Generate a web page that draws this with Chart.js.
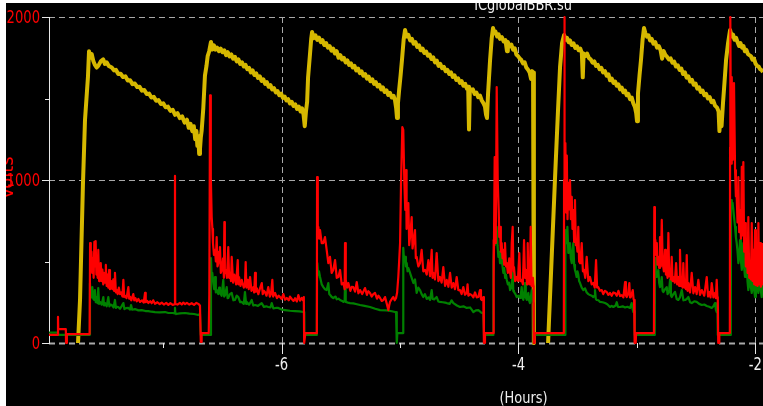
<!DOCTYPE html>
<html>
<head>
<meta charset="utf-8">
<title>ICglobalBBR.su</title>
<script src="https://cdn.jsdelivr.net/npm/chart.js@4.4.1/dist/chart.umd.min.js"></script>
<style>
  html, body { margin: 0; padding: 0; background: #fff; overflow: hidden; }
  canvas { display: block; }
</style>
</head>
<body>
<canvas id="chart" width="763" height="406"></canvas>
<script>
// Time axis in hours (negative = before now), values in volts.
const xRange = [-7.965, -1.935];
const yRange = [0, 2000];
const yTickValues = [0, 500, 1000, 1500, 2000];
const yLabelValues = [0, 1000, 2000];
const xTickValues = [-7, -6, -5, -4, -3, -2];
const xLabelValues = [-6, -4, -2];
const chartTitle = 'ICglobalBBR.su';
const yTitle = 'Volts';
const xTitle = '(Hours)';

// Yellow trace: charging sawtooth
const yellowTrace = [
  [-7.720,0],[-7.703,264],[-7.678,982],[-7.661,1368],[-7.636,1632],[-7.627,1790],[-7.615,1750],[-7.604,1772],[-7.590,1728],[-7.577,1706],
  [-7.563,1690],[-7.549,1700],[-7.528,1728],[-7.507,1740],[-7.493,1712],[-7.478,1722],[-7.460,1700],[-7.435,1690],[-7.415,1672],[-7.400,1676],
  [-7.380,1650],[-7.360,1652],[-7.340,1632],[-7.320,1636],[-7.300,1610],[-7.280,1612],[-7.260,1588],[-7.240,1592],[-7.220,1570],[-7.200,1572],
  [-7.180,1548],[-7.160,1552],[-7.140,1528],[-7.120,1530],[-7.100,1506],[-7.080,1510],[-7.060,1486],[-7.040,1490],[-7.020,1466],[-7.000,1470],
  [-6.980,1446],[-6.960,1450],[-6.940,1424],[-6.920,1430],[-6.900,1400],[-6.880,1410],[-6.860,1380],[-6.840,1390],[-6.820,1352],[-6.800,1370],
  [-6.785,1320],[-6.770,1345],[-6.755,1300],[-6.742,1330],[-6.730,1250],[-6.720,1300],[-6.712,1210],[-6.704,1270],[-6.697,1160],[-6.690,1190],
  [-6.683,1260],[-6.676,1300],[-6.662,1440],[-6.648,1640],[-6.635,1700],[-6.625,1760],[-6.612,1790],[-6.597,1847],
  [-6.585,1800],[-6.572,1826],[-6.560,1800],[-6.545,1812],[-6.530,1790],[-6.515,1806],[-6.500,1784],[-6.485,1796],[-6.470,1766],[-6.455,1784],
  [-6.440,1758],[-6.425,1770],[-6.410,1744],[-6.395,1756],[-6.380,1728],[-6.365,1740],[-6.350,1712],[-6.335,1722],[-6.320,1696],[-6.305,1706],
  [-6.290,1680],[-6.275,1688],[-6.260,1660],[-6.245,1672],[-6.230,1644],[-6.215,1654],[-6.200,1626],[-6.185,1636],[-6.170,1608],[-6.155,1618],
  [-6.140,1590],[-6.125,1600],[-6.110,1572],[-6.095,1582],[-6.080,1556],[-6.065,1564],[-6.050,1538],[-6.035,1546],[-6.020,1520],[-6.005,1530],
  [-5.990,1504],[-5.975,1512],[-5.960,1488],[-5.945,1496],[-5.930,1470],[-5.915,1480],[-5.900,1454],[-5.885,1464],[-5.870,1436],[-5.855,1450],
  [-5.840,1420],[-5.828,1440],[-5.815,1400],[-5.805,1330],[-5.795,1420],[-5.785,1480],[-5.777,1630],[-5.760,1780],[-5.750,1870],[-5.743,1908],
  [-5.730,1870],[-5.715,1888],[-5.700,1860],[-5.685,1874],[-5.670,1846],[-5.655,1858],[-5.640,1828],[-5.625,1840],[-5.610,1812],[-5.595,1822],
  [-5.580,1794],[-5.565,1806],[-5.550,1776],[-5.535,1790],[-5.520,1750],[-5.505,1766],[-5.490,1740],[-5.475,1750],[-5.460,1722],[-5.445,1734],
  [-5.430,1706],[-5.415,1716],[-5.400,1690],[-5.385,1700],[-5.370,1672],[-5.355,1684],[-5.340,1656],[-5.325,1666],[-5.310,1640],[-5.295,1650],
  [-5.280,1622],[-5.265,1634],[-5.250,1606],[-5.235,1618],[-5.220,1590],[-5.205,1600],[-5.190,1574],[-5.175,1584],[-5.160,1556],[-5.145,1568],
  [-5.130,1540],[-5.115,1550],[-5.100,1522],[-5.085,1534],[-5.070,1506],[-5.055,1516],[-5.043,1490],[-5.033,1440],[-5.026,1380],[-5.018,1470],
  [-5.008,1552],[-4.996,1640],[-4.984,1736],[-4.970,1860],[-4.958,1920],
  [-4.945,1880],[-4.930,1890],[-4.915,1856],[-4.900,1866],[-4.885,1836],[-4.870,1846],[-4.855,1816],[-4.840,1826],[-4.825,1796],[-4.810,1806],
  [-4.795,1780],[-4.780,1788],[-4.765,1762],[-4.750,1770],[-4.735,1742],[-4.720,1752],[-4.705,1722],[-4.690,1732],[-4.675,1700],[-4.660,1712],
  [-4.645,1686],[-4.630,1694],[-4.615,1668],[-4.600,1676],[-4.585,1650],[-4.570,1660],[-4.555,1632],[-4.540,1642],[-4.525,1614],[-4.510,1624],
  [-4.495,1596],[-4.480,1606],[-4.465,1578],[-4.450,1590],[-4.435,1560],[-4.425,1572],[-4.418,1310],[-4.411,1560],[-4.400,1548],[-4.385,1556],
  [-4.370,1528],[-4.355,1536],[-4.340,1508],[-4.325,1518],[-4.310,1488],[-4.295,1470],[-4.283,1450],[-4.274,1400],[-4.266,1380],[-4.257,1530],
  [-4.240,1736],[-4.226,1870],[-4.215,1933],
  [-4.205,1900],[-4.195,1912],[-4.180,1880],[-4.168,1894],[-4.156,1866],[-4.140,1876],[-4.125,1850],[-4.110,1858],[-4.097,1790],[-4.090,1846],
  [-4.075,1820],[-4.060,1830],[-4.046,1800],[-4.032,1808],[-4.018,1770],[-4.004,1760],[-3.990,1746],[-3.976,1736],[-3.962,1716],[-3.948,1722],
  [-3.934,1690],[-3.919,1676],[-3.906,1660],[-3.894,1620],[-3.885,1668],[-3.877,1660],[-3.871,1650],[-3.869,0],[-3.810,null],
  [-3.750,0],[-3.742,141],[-3.717,571],[-3.691,1018],[-3.666,1430],[-3.649,1693],[-3.632,1840],[-3.615,1890],
  [-3.603,1860],[-3.590,1872],[-3.577,1846],[-3.565,1856],[-3.550,1828],[-3.535,1838],[-3.520,1810],[-3.506,1820],[-3.492,1796],[-3.478,1806],
  [-3.465,1780],[-3.457,1630],[-3.450,1776],[-3.435,1760],[-3.421,1776],[-3.405,1748],[-3.390,1740],[-3.375,1720],[-3.360,1728],[-3.345,1700],
  [-3.330,1706],[-3.315,1680],[-3.300,1688],[-3.286,1660],[-3.270,1668],[-3.255,1640],[-3.240,1648],[-3.227,1612],[-3.212,1622],[-3.198,1596],
  [-3.184,1604],[-3.170,1578],[-3.156,1586],[-3.142,1556],[-3.128,1566],[-3.114,1538],[-3.100,1548],[-3.086,1520],[-3.072,1528],[-3.058,1496],
  [-3.044,1506],[-3.030,1470],[-3.016,1446],[-3.006,1410],[-2.999,1360],[-2.991,1530],[-2.978,1640],[-2.965,1740],[-2.952,1860],[-2.940,1933],
  [-2.928,1900],[-2.915,1880],[-2.902,1888],[-2.889,1856],[-2.875,1866],[-2.860,1836],[-2.845,1846],[-2.830,1812],[-2.815,1822],[-2.800,1796],
  [-2.787,1744],[-2.775,1792],[-2.760,1768],[-2.745,1756],[-2.730,1740],[-2.715,1746],[-2.700,1720],[-2.685,1726],[-2.670,1696],[-2.655,1704],
  [-2.640,1676],[-2.625,1684],[-2.610,1650],[-2.595,1660],[-2.580,1628],[-2.565,1636],[-2.550,1604],[-2.535,1614],[-2.520,1584],[-2.505,1592],
  [-2.490,1560],[-2.475,1568],[-2.460,1540],[-2.445,1548],[-2.430,1520],[-2.415,1528],[-2.400,1500],[-2.385,1508],[-2.370,1478],[-2.355,1486],
  [-2.340,1456],[-2.323,1444],[-2.310,1420],[-2.303,1300],[-2.296,1390],[-2.285,1330],[-2.273,1470],[-2.260,1600],[-2.247,1736],[-2.230,1840],
  [-2.213,1920],
  [-2.200,1880],[-2.188,1892],[-2.175,1860],[-2.162,1872],[-2.150,1846],[-2.137,1822],[-2.125,1840],[-2.112,1812],[-2.100,1822],[-2.088,1790],
  [-2.075,1798],[-2.062,1772],[-2.050,1766],[-2.037,1760],[-2.024,1738],[-2.011,1744],[-1.998,1714],[-1.985,1700],[-1.972,1696],[-1.960,1680],
  [-1.947,1674],[-1.935,1662]
];

// Red trace: discharge current bursts
const redTrace = [
  [-7.965,50],[-7.891,50],[-7.889,160],[-7.887,85],[-7.823,85],[-7.821,0],[-7.815,0],[-7.813,55],[-7.622,55],
  [-7.620,55],[-7.618,613],[-7.612,440],[-7.606,560],[-7.600,430],[-7.594,520],[-7.588,400],[-7.582,620],[-7.577,470],[-7.571,625],
  [-7.565,420],[-7.560,520],[-7.554,400],[-7.549,571],[-7.542,380],[-7.535,405],[-7.528,490],[-7.520,380],[-7.514,450],[-7.507,360],
  [-7.500,430],[-7.492,370],[-7.485,479],[-7.478,350],[-7.471,420],[-7.464,340],[-7.457,448],[-7.450,330],[-7.440,380],[-7.430,330],
  [-7.422,390],[-7.415,320],[-7.408,430],[-7.400,310],[-7.393,325],[-7.385,300],[-7.375,340],[-7.365,300],[-7.355,310],[-7.345,285],
  [-7.337,387],[-7.330,282],[-7.323,290],[-7.310,275],[-7.295,343],[-7.288,272],[-7.281,285],[-7.270,262],[-7.253,300],[-7.245,262],
  [-7.235,275],[-7.224,256],[-7.210,270],[-7.196,252],[-7.180,262],[-7.165,248],[-7.154,307],[-7.148,250],[-7.135,258],[-7.126,245],
  [-7.110,256],[-7.098,244],[-7.085,262],[-7.070,240],[-7.050,250],[-7.030,238],[-7.013,248],[-6.995,236],[-6.975,246],[-6.957,234],
  [-6.940,244],[-6.920,234],[-6.903,238],[-6.901,1025],[-6.899,240],[-6.880,236],[-6.860,246],[-6.844,236],[-6.830,248],[-6.816,238],
  [-6.800,246],[-6.780,236],[-6.760,244],[-6.740,234],[-6.720,246],[-6.704,240],[-6.690,230],[-6.683,6],[-6.678,6],[-6.676,60],
  [-6.616,60],[-6.611,300],[-6.605,1520],[-6.600,1100],[-6.597,1018],[-6.591,773],[-6.585,700],[-6.580,613],[-6.572,540],[-6.563,571],
  [-6.556,500],[-6.549,650],[-6.542,470],[-6.535,490],[-6.528,560],[-6.521,589],[-6.514,430],[-6.506,448],[-6.495,520],[-6.488,400],
  [-6.484,742],[-6.480,430],[-6.473,448],[-6.462,400],[-6.451,589],[-6.444,400],[-6.436,430],[-6.428,380],[-6.422,528],[-6.410,370],
  [-6.400,420],[-6.394,405],[-6.385,360],[-6.371,509],[-6.366,360],[-6.360,405],[-6.348,350],[-6.337,387],[-6.320,340],[-6.310,360],
  [-6.304,497],[-6.298,340],[-6.287,387],[-6.278,330],[-6.267,405],[-6.255,320],[-6.239,343],[-6.232,310],[-6.225,430],[-6.218,315],
  [-6.210,335],[-6.197,300],[-6.185,330],[-6.168,368],[-6.160,300],[-6.150,320],[-6.141,313],[-6.128,290],[-6.113,343],[-6.100,285],
  [-6.090,300],[-6.079,387],[-6.072,285],[-6.056,307],[-6.040,275],[-6.025,290],[-6.014,282],[-6.000,270],[-5.986,300],[-5.972,265],
  [-5.957,276],[-5.940,262],[-5.930,285],[-5.915,270],[-5.900,258],[-5.887,275],[-5.872,255],[-5.859,294],[-5.845,260],[-5.831,276],
  [-5.820,262],[-5.813,282],[-5.810,0],[-5.804,0],[-5.800,60],[-5.703,60],[-5.701,1018],[-5.695,700],[-5.690,712],[-5.683,640],
  [-5.676,693],[-5.662,613],[-5.648,613],[-5.634,650],[-5.620,571],[-5.606,490],[-5.592,528],[-5.578,430],[-5.564,448],[-5.549,509],
  [-5.535,400],[-5.521,405],[-5.507,448],[-5.493,360],[-5.479,368],[-5.468,330],[-5.465,613],[-5.460,400],[-5.457,387],[-5.447,340],
  [-5.437,368],[-5.420,320],[-5.408,345],[-5.395,343],[-5.380,315],[-5.366,374],[-5.352,305],[-5.338,325],[-5.320,300],[-5.296,337],
  [-5.280,295],[-5.268,318],[-5.254,307],[-5.240,285],[-5.226,300],[-5.212,307],[-5.195,272],[-5.183,290],[-5.169,276],[-5.155,258],
  [-5.141,264],[-5.127,282],[-5.112,240],[-5.099,202],[-5.092,230],[-5.085,252],[-5.070,270],[-5.057,282],[-5.045,262],[-5.034,276],
  [-5.025,310],[-5.015,405],[-5.008,500],[-5.000,613],[-4.992,982],[-4.981,1325],[-4.973,1307],[-4.964,982],[-4.956,816],[-4.950,1061],
  [-4.945,700],[-4.939,736],[-4.930,859],[-4.923,600],[-4.916,650],[-4.902,773],[-4.895,580],[-4.888,613],[-4.874,693],[-4.867,520],
  [-4.860,528],[-4.846,470],[-4.832,490],[-4.818,571],[-4.804,440],[-4.789,448],[-4.775,420],[-4.761,509],[-4.747,410],[-4.733,571],
  [-4.726,400],[-4.719,430],[-4.705,390],[-4.691,552],[-4.677,380],[-4.663,405],[-4.649,370],[-4.635,466],[-4.620,350],[-4.606,387],
  [-4.592,345],[-4.578,430],[-4.564,340],[-4.550,368],[-4.536,330],[-4.522,405],[-4.508,325],
  [-4.494,325],[-4.480,300],[-4.466,343],[-4.452,296],[-4.437,307],[-4.430,360],[-4.423,290],[-4.409,300],[-4.395,294],[-4.381,280],
  [-4.367,310],[-4.353,280],[-4.339,282],[-4.325,325],[-4.317,270],[-4.310,264],[-4.297,282],[-4.292,0],[-4.286,0],[-4.283,61],
  [-4.213,61],[-4.212,632],[-4.207,400],[-4.201,1141],[-4.196,700],[-4.192,613],[-4.184,1570],[-4.175,982],[-4.167,816],[-4.162,650],
  [-4.156,712],[-4.149,560],[-4.142,613],[-4.135,520],[-4.128,571],[-4.121,480],[-4.114,613],[-4.106,470],[-4.099,490],[-4.090,430],
  [-4.078,520],[-4.071,430],[-4.064,400],[-4.057,613],[-4.049,712],[-4.043,440],[-4.038,466],[-4.028,380],[-4.015,405],[-4.005,380],
  [-3.993,552],[-3.985,380],[-3.973,387],[-3.963,360],[-3.953,632],[-3.945,400],[-3.936,448],[-3.928,360],[-3.922,613],[-3.916,380],
  [-3.911,405],[-3.904,360],[-3.897,712],[-3.890,350],[-3.886,368],[-3.878,400],[-3.873,350],[-3.871,0],[-3.866,0],[-3.863,61],
  [-3.617,61],[-3.615,1000],[-3.613,2000],[-3.609,900],[-3.604,1227],[-3.598,800],[-3.592,1150],[-3.586,760],[-3.579,982],[-3.572,820],
  [-3.565,1000],[-3.558,760],[-3.550,896],[-3.544,700],[-3.537,816],[-3.530,620],[-3.523,877],[-3.516,600],[-3.509,613],[-3.502,560],
  [-3.495,712],[-3.488,500],[-3.480,490],[-3.473,540],[-3.466,613],[-3.456,440],[-3.447,448],[-3.436,400],[-3.424,528],[-3.410,380],
  [-3.396,405],[-3.382,360],[-3.368,368],[-3.356,340],[-3.345,509],[-3.336,340],[-3.326,343],[-3.312,320],[-3.297,325],[-3.284,300],
  [-3.270,320],[-3.255,313],[-3.241,295],[-3.227,307],
  [-3.213,290],[-3.199,310],[-3.185,307],[-3.170,290],[-3.156,320],[-3.142,288],[-3.128,294],[-3.114,280],[-3.100,374],[-3.093,290],
  [-3.086,282],[-3.075,300],[-3.064,368],[-3.058,280],[-3.052,282],[-3.044,300],[-3.035,325],[-3.028,270],[-3.024,264],[-3.019,0],
  [-3.010,0],[-3.007,61],[-2.856,61],[-2.853,834],[-2.848,560],[-2.844,632],[-2.838,540],[-2.832,613],[-2.826,480],[-2.819,528],
  [-2.812,460],[-2.805,650],[-2.798,470],[-2.790,755],[-2.782,490],[-2.772,440],[-2.762,571],[-2.755,420],[-2.748,448],[-2.741,400],
  [-2.734,675],[-2.727,410],[-2.720,430],[-2.713,390],[-2.706,528],[-2.699,380],[-2.692,405],[-2.680,370],[-2.669,490],[-2.660,360],
  [-2.650,405],[-2.643,350],[-2.636,571],[-2.628,350],[-2.621,405],[-2.614,340],[-2.608,490],[-2.600,340],[-2.593,387],[-2.586,330],
  [-2.579,540],[-2.572,320],[-2.565,368],[-2.551,310],[-2.537,430],[-2.523,305],[-2.509,343],[-2.495,300],[-2.481,387],[-2.467,295],
  [-2.452,325],[-2.431,290],[-2.410,405],[-2.399,285],[-2.388,313],[-2.378,280],[-2.368,368],[-2.354,280],[-2.340,307],[-2.333,275],
  [-2.326,387],[-2.320,280],[-2.317,282],[-2.313,0],[-2.306,0],[-2.304,61],
  [-2.215,61],[-2.213,1200],[-2.211,2000],[-2.205,1100],[-2.199,1632],[-2.191,1123],[-2.186,1300],[-2.180,1595],[-2.171,1061],[-2.164,900],
  [-2.157,896],[-2.150,740],[-2.143,1018],[-2.136,680],[-2.129,816],[-2.121,640],[-2.114,1080],[-2.108,660],[-2.101,1110],[-2.094,560],
  [-2.087,736],[-2.080,470],[-2.072,613],[-2.065,430],[-2.059,773],[-2.051,400],[-2.044,490],[-2.037,390],[-2.030,736],[-2.023,380],
  [-2.017,571],[-2.009,360],[-2.002,693],[-1.995,355],[-1.988,466],[-1.981,350],[-1.974,736],[-1.967,360],[-1.960,613],[-1.953,345],
  [-1.946,490],[-1.940,360],[-1.935,613]
];

// Green trace: secondary current channel
const greenTrace = [
  [-7.965,64],[-7.889,64],[-7.887,50],[-7.621,50],
  [-7.619,368],[-7.614,300],[-7.610,307],[-7.604,280],[-7.599,343],[-7.590,270],[-7.582,264],[-7.577,325],[-7.570,250],[-7.562,282],
  [-7.555,245],[-7.549,337],[-7.542,240],[-7.534,252],[-7.520,235],[-7.506,282],[-7.500,230],[-7.492,245],[-7.478,225],[-7.464,282],
  [-7.455,225],[-7.446,236],[-7.435,233],[-7.420,218],[-7.408,264],[-7.400,215],[-7.390,222],[-7.380,221],[-7.365,210],[-7.350,228],
  [-7.337,245],[-7.328,208],[-7.315,214],[-7.295,215],[-7.280,205],[-7.272,233],[-7.262,204],[-7.239,208],[-7.210,200],[-7.182,202],
  [-7.150,196],[-7.126,196],[-7.100,192],[-7.070,190],[-7.030,188],[-6.985,190],[-6.957,184],[-6.920,184],[-6.903,182],[-6.901,215],
  [-6.898,180],[-6.893,178],[-6.860,182],[-6.816,184],[-6.780,180],[-6.740,178],[-6.704,172],[-6.690,178],[-6.683,49],
  [-6.599,49],[-6.597,521],[-6.591,400],[-6.586,430],[-6.577,368],[-6.570,330],[-6.563,405],[-6.556,310],[-6.549,325],[-6.535,300],
  [-6.528,340],[-6.521,307],[-6.507,290],[-6.493,387],[-6.486,285],[-6.478,294],[-6.464,343],[-6.457,275],[-6.451,276],[-6.437,300],
  [-6.422,307],[-6.408,262],[-6.394,264],[-6.380,290],[-6.366,282],[-6.350,250],[-6.337,252],[-6.320,240],[-6.310,313],[-6.300,240],
  [-6.295,252],[-6.275,235],[-6.253,264],[-6.240,230],[-6.225,233],[-6.200,228],[-6.169,245],[-6.150,222],[-6.130,225],[-6.113,221],
  [-6.095,218],[-6.084,245],[-6.070,212],[-6.050,215],[-6.028,215],[-6.000,205],[-5.972,202],[-5.930,198],[-5.887,196],[-5.850,194],
  [-5.817,190],[-5.811,190],[-5.809,49],
  [-5.703,49],[-5.701,400],[-5.699,490],[-5.692,420],[-5.685,440],[-5.676,405],[-5.662,360],[-5.648,343],[-5.634,330],[-5.620,325],
  [-5.606,368],[-5.598,300],[-5.585,290],[-5.577,282],[-5.564,276],[-5.545,285],[-5.535,268],[-5.520,272],[-5.507,264],[-5.490,258],
  [-5.479,252],[-5.468,260],[-5.465,368],[-5.461,280],[-5.457,252],[-5.440,248],[-5.423,245],[-5.395,243],[-5.365,238],[-5.338,233],
  [-5.300,228],[-5.254,221],[-5.210,210],[-5.169,202],[-5.113,200],[-5.070,195],[-5.043,190],[-5.034,190],[-5.028,0],[-5.023,61],
  [-4.975,61],[-4.973,583],[-4.966,500],[-4.958,528],[-4.951,470],[-4.944,490],[-4.937,440],[-4.930,460],[-4.916,430],[-4.902,400],
  [-4.888,368],[-4.874,390],[-4.860,307],[-4.846,340],[-4.832,325],[-4.818,300],[-4.804,282],[-4.790,300],[-4.775,270],[-4.760,280],
  [-4.747,264],[-4.733,325],[-4.725,270],[-4.712,268],[-4.691,282],[-4.677,255],[-4.663,252],[-4.640,250],[-4.620,248],[-4.606,245],
  [-4.580,240],[-4.565,262],[-4.550,245],[-4.520,230],[-4.494,221],[-4.465,225],[-4.437,215],[-4.409,218],
  [-4.395,205],[-4.381,190],[-4.360,200],[-4.339,202],[-4.320,190],[-4.310,184],[-4.297,186],[-4.291,49],
  [-4.214,49],[-4.212,500],[-4.206,600],[-4.201,736],[-4.192,613],[-4.184,712],[-4.177,600],[-4.170,528],[-4.163,560],[-4.156,490],
  [-4.149,520],[-4.142,571],[-4.135,470],[-4.128,430],[-4.120,460],[-4.113,400],[-4.106,420],[-4.099,387],[-4.090,360],[-4.080,370],
  [-4.071,325],[-4.060,340],[-4.049,430],[-4.044,320],[-4.038,313],[-4.026,300],[-4.015,282],[-4.000,290],[-3.987,276],[-3.980,300],
  [-3.973,343],[-3.966,280],[-3.959,264],[-3.952,300],[-3.945,368],[-3.938,280],[-3.930,264],[-3.924,290],[-3.917,307],[-3.910,260],
  [-3.903,245],[-3.896,280],[-3.888,325],[-3.880,250],[-3.874,245],[-3.871,0],[-3.866,49],
  [-3.606,49],[-3.604,693],[-3.598,620],[-3.593,613],[-3.587,712],[-3.579,552],[-3.572,600],[-3.565,613],[-3.558,520],[-3.550,490],
  [-3.544,560],[-3.537,613],[-3.530,480],[-3.523,448],[-3.516,430],[-3.509,405],[-3.502,440],[-3.495,420],[-3.488,380],[-3.480,368],
  [-3.466,340],[-3.452,325],[-3.438,335],[-3.424,310],[-3.410,300],[-3.396,294],[-3.382,290],[-3.368,282],[-3.360,290],[-3.354,325],
  [-3.347,270],[-3.339,264],[-3.325,262],[-3.311,252],[-3.290,250],[-3.269,245],[-3.250,238],[-3.227,221],
  [-3.213,228],[-3.199,221],[-3.180,230],[-3.170,250],[-3.160,222],[-3.142,221],[-3.120,225],[-3.100,218],[-3.080,222],[-3.058,215],
  [-3.044,245],[-3.037,212],[-3.030,190],[-3.020,195],[-3.018,49],
  [-2.849,49],[-2.847,521],[-2.840,440],[-2.832,405],[-2.826,420],[-2.819,448],[-2.812,370],[-2.805,343],[-2.798,360],[-2.790,405],
  [-2.783,320],[-2.776,313],[-2.762,330],[-2.748,343],[-2.741,300],[-2.734,307],[-2.727,330],[-2.720,387],[-2.713,290],[-2.706,282],
  [-2.692,300],[-2.678,313],[-2.664,270],[-2.650,264],[-2.636,280],[-2.621,325],[-2.607,262],[-2.593,264],[-2.579,270],[-2.565,282],
  [-2.551,250],[-2.537,245],[-2.516,256],[-2.495,252],[-2.474,240],[-2.452,233],[-2.431,236],[-2.410,227],[-2.389,222],[-2.368,215],
  [-2.354,225],[-2.340,245],[-2.333,205],[-2.326,190],[-2.319,195],[-2.317,49],
  [-2.207,49],[-2.205,877],[-2.199,840],[-2.192,860],[-2.185,816],[-2.178,760],[-2.171,712],[-2.164,650],[-2.157,613],[-2.150,560],
  [-2.143,490],[-2.136,540],[-2.129,632],[-2.121,500],[-2.114,448],[-2.108,520],[-2.101,613],[-2.094,460],[-2.087,405],[-2.080,440],
  [-2.072,490],[-2.066,380],[-2.059,325],[-2.051,370],[-2.044,430],[-2.037,340],[-2.030,307],[-2.023,360],[-2.017,405],[-2.009,320],
  [-2.002,282],[-1.995,350],[-1.988,430],[-1.981,330],[-1.974,307],[-1.967,360],[-1.960,405],[-1.953,320],[-1.946,282],[-1.940,330],
  [-1.935,387]
];

const toXY = trace => trace.map(([x, y]) => ({ x, y }));

const LABEL_FAMILY = "'Liberation Sans Narrow', 'Arial Narrow', 'DejaVu Sans Condensed', sans-serif";

// Draw text squeezed horizontally to get the tall, narrow look of the labels
function narrowText(ctx, text, x, y, align, squeeze) {
  ctx.save();
  ctx.translate(x, y);
  ctx.scale(squeeze, 1);
  ctx.textAlign = align;
  ctx.fillText(text, 0, 0);
  ctx.restore();
}

// Black plot window, dashed grid, axis ticks and all captions
const scopeFrame = {
  id: 'scopeFrame',
  beforeDraw(chart) {
    const { ctx, width, height } = chart;
    ctx.save();
    ctx.fillStyle = '#000';
    ctx.fillRect(0, 0, width, height);
    ctx.restore();
  },
  beforeDatasetsDraw(chart) {
    const { ctx, chartArea: a, scales: { x, y } } = chart;
    ctx.save();
    // dashed horizontal grid at labelled values
    ctx.strokeStyle = '#a9a9a9';
    ctx.setLineDash([6, 4]);
    yLabelValues.forEach(v => {
      const py = Math.round(y.getPixelForValue(v)) + 0.5;
      ctx.lineWidth = v === 0 ? 2 : 1;
      ctx.beginPath();
      ctx.moveTo(a.left, py);
      ctx.lineTo(a.right, py);
      ctx.stroke();
    });
    // dashed vertical grid at labelled hours
    ctx.lineWidth = 1;
    xLabelValues.forEach(v => {
      const px = Math.round(x.getPixelForValue(v)) + 0.5;
      ctx.beginPath();
      ctx.moveTo(px, a.top);
      ctx.lineTo(px, a.bottom);
      ctx.stroke();
    });
    ctx.setLineDash([]);
    // solid left axis
    ctx.strokeStyle = '#e8e8e8';
    ctx.beginPath();
    ctx.moveTo(a.left + 0.5, a.top);
    ctx.lineTo(a.left + 0.5, a.bottom + 1);
    ctx.stroke();
    // y tick marks (long for labelled values)
    yTickValues.forEach(v => {
      const py = Math.round(y.getPixelForValue(v)) + 0.5;
      const len = yLabelValues.includes(v) ? 7 : 4;
      ctx.beginPath();
      ctx.moveTo(a.left - len, py);
      ctx.lineTo(a.left, py);
      ctx.stroke();
    });
    // x tick marks
    xTickValues.forEach(v => {
      const px = Math.round(x.getPixelForValue(v)) + 0.5;
      const len = xLabelValues.includes(v) ? 11 : 5;
      ctx.beginPath();
      ctx.moveTo(px, a.bottom);
      ctx.lineTo(px, a.bottom + len);
      ctx.stroke();
    });
    ctx.restore();
  },
  afterDraw(chart) {
    const { ctx, chartArea: a, scales: { x, y } } = chart;
    ctx.save();
    ctx.font = '17px ' + LABEL_FAMILY;
    ctx.textBaseline = 'alphabetic';
    // y tick labels
    ctx.fillStyle = '#ff0000';
    yLabelValues.forEach(v => {
      narrowText(ctx, String(v), a.left - 9, y.getPixelForValue(v) + 6, 'right', 0.86);
    });
    // x tick labels
    ctx.fillStyle = '#f0f0f0';
    xLabelValues.forEach(v => {
      narrowText(ctx, String(v), x.getPixelForValue(v), a.bottom + 27, 'center', 0.86);
    });
    // axis titles
    ctx.font = '16px ' + LABEL_FAMILY;
    narrowText(ctx, xTitle, 523.5, 403, 'center', 0.9);
    narrowText(ctx, chartTitle, 523, 10, 'center', 0.9);
    ctx.save();
    ctx.fillStyle = '#ff0000';
    ctx.font = '20px ' + LABEL_FAMILY;
    ctx.translate(13, y.getPixelForValue(1000) - 2);
    ctx.rotate(-Math.PI / 2);
    ctx.textAlign = 'center';
    ctx.fillText(yTitle, 0, 0);
    ctx.restore();
    // white window border
    ctx.fillStyle = '#ffffff';
    ctx.fillRect(0, 0, 6, chart.height);
    ctx.fillRect(0, 0, chart.width, 3);
    ctx.restore();
  }
};

new Chart(document.getElementById('chart'), {
  type: 'line',
  data: {
    datasets: [
      { label: 'Red', data: toXY(redTrace), borderColor: '#ff0000', borderWidth: 2.2 },
      { label: 'Green', data: toXY(greenTrace), borderColor: '#008000', borderWidth: 2.2 },
      { label: 'Yellow', data: toXY(yellowTrace), borderColor: '#d6b800', borderWidth: 4 }
    ]
  },
  options: {
    responsive: false,
    devicePixelRatio: 1,
    animation: false,
    events: [],
    layout: { padding: { top: 17, left: 0, right: 0, bottom: 0 } },
    elements: {
      point: { radius: 0 },
      line: { tension: 0, borderJoinStyle: 'round', borderCapStyle: 'butt' }
    },
    datasets: { line: { clip: 4, spanGaps: false } },
    plugins: { legend: { display: false }, tooltip: { enabled: false }, title: { display: false } },
    scales: {
      x: {
        type: 'linear', min: xRange[0], max: xRange[1],
        grid: { display: false }, border: { display: false },
        ticks: { display: false },
        afterFit(scale) { scale.height = 63; scale.paddingLeft = 0; scale.paddingRight = 0; }
      },
      y: {
        type: 'linear', min: yRange[0], max: yRange[1],
        grid: { display: false }, border: { display: false },
        ticks: { display: false },
        afterFit(scale) { scale.width = 49; scale.paddingTop = 0; scale.paddingBottom = 0; }
      }
    }
  },
  plugins: [scopeFrame]
});
</script>
</body>
</html>
